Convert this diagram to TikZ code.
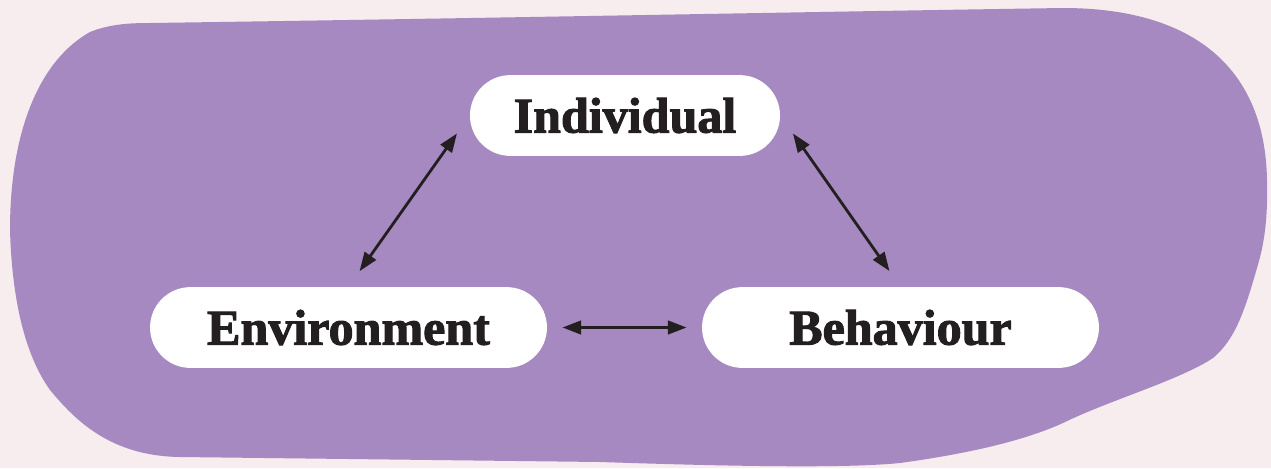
\documentclass[tikz,border=0pt]{standalone}
\usepackage{fontspec}
\newfontfamily\pillfont{Liberation Serif}[BoldFeatures={FakeBold=2}]
\usetikzlibrary{shapes.misc,arrows.meta}

\definecolor{bgpink}{HTML}{F7EDEE}
\definecolor{blobpurple}{HTML}{A689C1}
\definecolor{inkdark}{HTML}{231F20}

\tikzset{
  pill/.style={rounded rectangle, fill=white, inner sep=0pt,
    minimum height=2.02cm, text=inkdark,
    font=\pillfont\bfseries\fontsize{35.6pt}{40pt}\selectfont},
  link/.style={inkdark, line width=2pt,
    {Triangle[length=0.47cm,width=0.34cm]}-{Triangle[length=0.47cm,width=0.34cm]}}
}

\begin{document}
\begin{tikzpicture}[x=0.025cm, y=-0.025cm]

  \fill[bgpink] (0,0) rectangle (1271,468);
  \useasboundingbox (0,0) rectangle (1271,468);

  % blob behind the diagram
  \fill[blobpurple] (150,23) .. controls (500,18) and (800,12) .. (1063,8)
    .. controls (1190,8) and (1265,65) .. (1267,180)
    .. controls (1268,220) and (1264,245) .. (1257,268)
    .. controls (1245,310) and (1235,340) .. (1213,358)
    .. controls (1180,380) and (1110,400) .. (1063,423)
    .. controls (1030,438) and (980,452) .. (900,463)
    .. controls (850,468) and (750,467) .. (600,462)
    -- (180,457)
    .. controls (110,456) and (75,420) .. (50,390)
    .. controls (25,355) and (12,300) .. (10,230)
    .. controls (10,130) and (40,60) .. (90,32)
    .. controls (110,24) and (130,23) .. cycle;

  \node[pill, minimum width=7.75cm] (indiv) at (625,115.5) {Individual};
  \node[pill, minimum width=9.92cm] (env) at (348.5,327.5) {Environment};
  \node[pill, minimum width=9.92cm] (behav) at (900.5,327.5) {Behaviour};

  \draw[link, shorten <=0.48cm, shorten >=0.55cm] (env.north) -- (indiv.west);
  \draw[link, shorten <=0.55cm, shorten >=0.48cm] (indiv.east) -- (behav.north);
  \draw[link, shorten <=0.38cm, shorten >=0.38cm] (env.east) -- (behav.west);

\end{tikzpicture}
\end{document}
